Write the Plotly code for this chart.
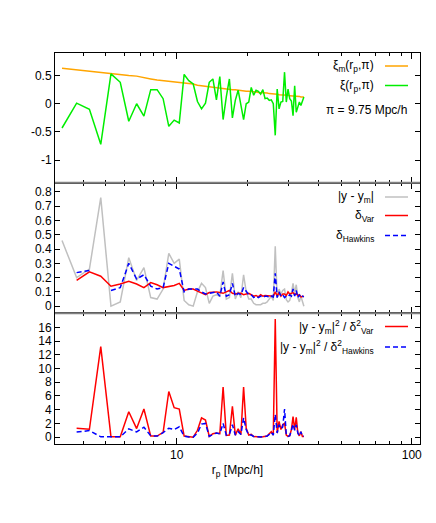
import plotly.graph_objects as go

# ---------------- data ----------------
r_p = [3.25, 3.75, 4.25, 4.75, 5.25, 5.75, 6.25, 6.75, 7.25, 7.75,
       8.25, 8.75, 9.25, 9.75, 10.25, 10.75, 11.25, 11.75, 12.25, 12.75,
       13.25, 13.75, 14.25, 14.75, 15.25, 15.75, 16.25, 16.75, 17.25, 17.75,
       18.25, 18.75, 19.25, 19.75, 20.25, 20.75, 21.25, 21.75, 22.25, 22.75,
       23.25, 23.75, 24.25, 24.75, 25.25, 25.75, 26.25, 26.75, 27.25, 27.75,
       28.25, 28.75, 29.25, 29.75, 30.25, 30.75, 31.25, 31.75, 32.25, 32.75,
       33.25, 33.75, 34.25, 34.75]

xi_model = [0.63, 0.60, 0.58, 0.55, 0.53, 0.52, 0.50, 0.49, 0.47, 0.44,
            0.42, 0.41, 0.40, 0.39, 0.38, 0.37, 0.36, 0.35, 0.33, 0.32,
            0.31, 0.30, 0.30, 0.29, 0.28, 0.27, 0.27, 0.26, 0.25, 0.25,
            0.24, 0.23, 0.23, 0.22, 0.22, 0.22, 0.21, 0.21, 0.20, 0.20,
            0.19, 0.19, 0.19, 0.18, 0.18, 0.18, 0.17, 0.17, 0.16, 0.16,
            0.16, 0.15, 0.15, 0.15, 0.14, 0.14, 0.14, 0.13, 0.13, 0.13,
            0.13, 0.12, 0.12, 0.12]

xi_data = [-0.43, 0.01, -0.10, -0.72, 0.53, 0.38, -0.31, 0.00, -0.22, 0.25,
           0.25, 0.09, -0.40, -0.29, -0.34, 0.52, 0.41, 0.35, 0.04, -0.09,
           0.01, 0.38, 0.44, 0.07, 0.48, -0.28, 0.12, 0.44, -0.25, 0.06,
           0.24, -0.02, -0.28, 0.00, 0.03, 0.29, 0.15, 0.24, 0.22, 0.17,
           0.25, 0.09, 0.10, 0.06, 0.07, 0.00, -0.56, 0.26, -0.09, 0.03,
           0.04, 0.56, 0.03, 0.26, 0.09, 0.05, -0.21, 0.32, -0.15, -0.06,
           0.03, -0.03, 0.05, 0.12]

abs_diff = [0.46, 0.20, 0.26, 0.76, 0.00, 0.03, 0.34, 0.18, 0.27, 0.06,
            0.05, 0.12, 0.37, 0.30, 0.33, 0.04, 0.01, 0.00, 0.10, 0.16,
            0.13, 0.02, 0.07, 0.08, 0.07, 0.25, 0.05, 0.06, 0.23, 0.05,
            0.10, 0.06, 0.22, 0.10, 0.05, 0.05, 0.02, 0.01, 0.01, 0.01,
            0.02, 0.02, 0.03, 0.05, 0.07, 0.04, 0.42, 0.06, 0.12, 0.085,
            0.11, 0.12, 0.045, 0.03, 0.04, 0.09, 0.16, 0.09, 0.15, 0.06,
            0.03, 0.07, 0.03, 0.00]

delta_var = [None, 0.18, 0.24, 0.21, 0.14, 0.155, 0.175, 0.155, 0.13, 0.165,
             0.15, 0.13, 0.14, 0.145, 0.16, 0.11, 0.12, 0.12, 0.105, 0.095,
             0.08, 0.095, 0.10, 0.10, 0.095, 0.09, 0.10, 0.11, 0.09, 0.085,
             0.09, 0.09, 0.08, 0.085, 0.09, 0.08, 0.07, 0.075, 0.065, 0.08,
             0.07, 0.075, 0.075, 0.07, 0.075, 0.07, 0.10, 0.07, 0.095, 0.07,
             0.085, 0.085, 0.075, 0.10, 0.085, 0.09, 0.095, 0.08, 0.09, 0.075,
             0.08, 0.065, 0.07, 0.07]

delta_hawkins = [None, 0.235, 0.25, None, 0.11, 0.13, 0.30, 0.19, 0.22, 0.14,
                 0.12, 0.13, 0.30, 0.28, 0.26, 0.10, 0.12, 0.12, 0.12, 0.10,
                 0.085, 0.09, 0.095, 0.10, 0.07, 0.17, 0.07, 0.08, 0.16, 0.07,
                 0.09, 0.08, 0.13, 0.10, 0.08, 0.08, 0.06, 0.07, 0.06, 0.07,
                 0.06, 0.07, 0.07, 0.06, 0.07, 0.065, 0.23, 0.06, 0.10, 0.07,
                 0.08, 0.06, 0.07, 0.065, 0.08, 0.07, 0.12, 0.07, 0.11, 0.06,
                 0.08, 0.06, 0.07, 0.065]

chi_var = [None, 1.3, 1.15, 13.2, 0.05, 0.05, 3.7, 1.25, 4.1, 0.15,
           0.15, 0.7, 6.65, 4.3, 4.1, 0.15, 0.02, 0.0, 1.0, 2.8,
           2.5, 0.1, 0.5, 0.6, 0.5, 7.3, 0.25, 0.3, 4.5, 0.3,
           1.2, 0.4, 7.3, 1.3, 0.3, 0.4, 0.1, 0.05, 0.02, 0.02,
           0.05, 0.1, 0.15, 0.5, 0.8, 0.3, 17.2, 0.6, 2.3, 1.1,
           1.8, 2.0, 0.3, 0.1, 0.2, 1.1, 3.0, 1.1, 2.9, 0.6,
           0.2, 0.8, 0.1, 0.1]

chi_hawkins = [None, 0.75, 0.95, 0.05, 0.0, 0.05, 1.2, 0.75, 1.45, 0.2,
               0.15, 0.65, 1.3, 1.1, 1.5, 0.15, 0.02, 0.0, 0.6, 1.9,
               2.0, 0.1, 0.4, 0.6, 0.5, 2.0, 0.3, 0.4, 1.8, 0.3,
               0.8, 0.4, 2.8, 1.1, 0.3, 0.3, 0.1, 0.05, 0.02, 0.02,
               0.05, 0.1, 0.15, 0.4, 0.7, 0.3, 3.3, 0.6, 1.8, 1.2,
               1.5, 4.1, 0.3, 0.1, 0.2, 1.0, 1.9, 1.0, 1.8, 0.6,
               0.2, 0.8, 0.1, 0.15]

y1_ticks = [-1, -0.5, 0, 0.5]
y2_ticks = [0, 0.1, 0.2, 0.3, 0.4, 0.5, 0.6, 0.7, 0.8]
y3_ticks = [0, 2, 4, 6, 8, 10, 12, 14, 16]
x_major = [10, 100]
x_minor = [3, 4, 5, 6, 7, 8, 9, 20, 30, 40, 50, 60, 70, 80, 90]

# ---------------- layout helpers (pixel geometry, screen coords) ----------------
OFF = 8                      # default page body margin
W, H = 436 - OFF, 523 - OFF
L, R, T, B = 55, 420, 53, 444
PW, PH = R - L, B - T


def px(x):
    return (x - L) / PW


def py(y):
    return (B - y) / PH


b12 = py(182.7)
b23 = py(313.3)

FONT = "Liberation Sans, Arial, sans-serif"

fig = go.Figure()

fig.add_trace(go.Scatter(x=r_p, y=xi_model, mode="lines", line=dict(color="#FFA500", width=1.5),
                         xaxis="x", yaxis="y", showlegend=False))
fig.add_trace(go.Scatter(x=r_p, y=xi_data, mode="lines", line=dict(color="#00EE00", width=1.5),
                         xaxis="x", yaxis="y", showlegend=False))

fig.add_trace(go.Scatter(x=r_p, y=abs_diff, mode="lines", line=dict(color="#C0C0C0", width=1.5),
                         xaxis="x2", yaxis="y2", showlegend=False))
fig.add_trace(go.Scatter(x=r_p, y=delta_var, mode="lines", line=dict(color="#FF0000", width=1.5),
                         xaxis="x2", yaxis="y2", showlegend=False, connectgaps=False))
fig.add_trace(go.Scatter(x=r_p, y=delta_hawkins, mode="lines",
                         line=dict(color="#0000FF", width=1.5, dash="5px,3px"),
                         xaxis="x2", yaxis="y2", showlegend=False, connectgaps=False))

fig.add_trace(go.Scatter(x=r_p, y=chi_var, mode="lines", line=dict(color="#FF0000", width=1.5),
                         xaxis="x3", yaxis="y3", showlegend=False))
fig.add_trace(go.Scatter(x=r_p, y=chi_hawkins, mode="lines",
                         line=dict(color="#0000FF", width=1.5, dash="5px,3px"),
                         xaxis="x3", yaxis="y3", showlegend=False))

xrange = [0.482, 2.035]


def xaxis(anchor, labels):
    return dict(type="log", range=xrange, anchor=anchor, domain=[0, 1], automargin=False,
                tickvals=x_major, ticktext=["10", "100"], showticklabels=labels,
                ticks="inside", ticklen=6, tickcolor="#000", tickwidth=1,
                showline=True, linecolor="#000", linewidth=1, mirror="ticks",
                showgrid=False, zeroline=False,
                minor=dict(tickvals=x_minor, ticks="inside", ticklen=3, tickcolor="#000", showgrid=False),
                tickfont=dict(family=FONT, size=12, color="#000"))


def yaxis(anchor, dom, rng, tv, tt):
    return dict(anchor=anchor, domain=dom, range=rng, tickvals=tv, ticktext=tt, automargin=False,
                ticks="inside", ticklen=5, tickcolor="#000", tickwidth=1,
                showline=True, linecolor="#000", linewidth=1, mirror="ticks",
                showgrid=False, zeroline=False,
                tickfont=dict(family=FONT, size=12, color="#000"))


fig.update_layout(
    template="none",
    width=W, height=H,
    margin=dict(l=L - OFF, r=(W + OFF) - R, t=T - OFF, b=(H + OFF) - B, autoexpand=False),
    paper_bgcolor="white", plot_bgcolor="white",
    xaxis=xaxis("y", False),
    xaxis2=xaxis("y2", False),
    xaxis3=dict(xaxis("y3", True),
                title=dict(text="r<sub>p</sub> [Mpc/h]", font=dict(family=FONT, size=12, color="#000"),
                           standoff=4)),
    yaxis=yaxis("x", [b12, 1], [-1.4, 0.9], y1_ticks, ["-1", "-0.5", "0", "0.5"]),
    yaxis2=yaxis("x2", [b23, b12], [-0.05, 0.865], y2_ticks,
                 ["0", "0.1", "0.2", "0.3", "0.4", "0.5", "0.6", "0.7", "0.8"]),
    yaxis3=yaxis("x3", [0, b23], [-1, 18.05], y3_ticks,
                 ["0", "2", "4", "6", "8", "10", "12", "14", "16"]),
)

shapes = []
annotations = []

# panel separators (gray thick lines)
for yy in (182.7, 313.3):
    shapes.append(dict(type="line", xref="paper", yref="paper", x0=0, x1=1, y0=py(yy), y1=py(yy),
                       line=dict(color="#808080", width=2)))

legend_items = [
    ("ξ<sub>m</sub>(r<sub>p</sub>,π)", 66, "#FFA500", None),
    ("ξ(r<sub>p</sub>,π)", 85.5, "#00EE00", None),
    ("|y - y<sub>m</sub>|", 197, "#C0C0C0", None),
    ("δ<sub>Var</sub>", 215.5, "#FF0000", None),
    ("δ<sub>Hawkins</sub>", 235.5, "#0000FF", "5px,3px"),
    ("|y - y<sub>m</sub>|<sup>2</sup> / δ<sup>2</sup><sub>Var</sub>", 326.5, "#FF0000", None),
    ("|y - y<sub>m</sub>|<sup>2</sup> / δ<sup>2</sup><sub>Hawkins</sub>", 347, "#0000FF", "5px,3px"),
]
for text, yy, col, dash in legend_items:
    annotations.append(dict(text=text, xref="paper", yref="paper", x=px(376), y=py(yy),
                            xanchor="right", yanchor="middle", showarrow=False,
                            font=dict(family=FONT, size=12, color="#000")))
    ln = dict(color=col, width=1.5)
    if dash:
        ln["dash"] = dash
    shapes.append(dict(type="line", xref="paper", yref="paper", x0=px(385), x1=px(408),
                       y0=py(yy), y1=py(yy), line=ln))

annotations.append(dict(text="π = 9.75 Mpc/h", xref="paper", yref="paper", x=px(409), y=py(110),
                        xanchor="right", yanchor="middle", showarrow=False,
                        font=dict(family=FONT, size=12, color="#000")))

fig.update_layout(shapes=shapes, annotations=annotations)

fig.write_html("out.html")
